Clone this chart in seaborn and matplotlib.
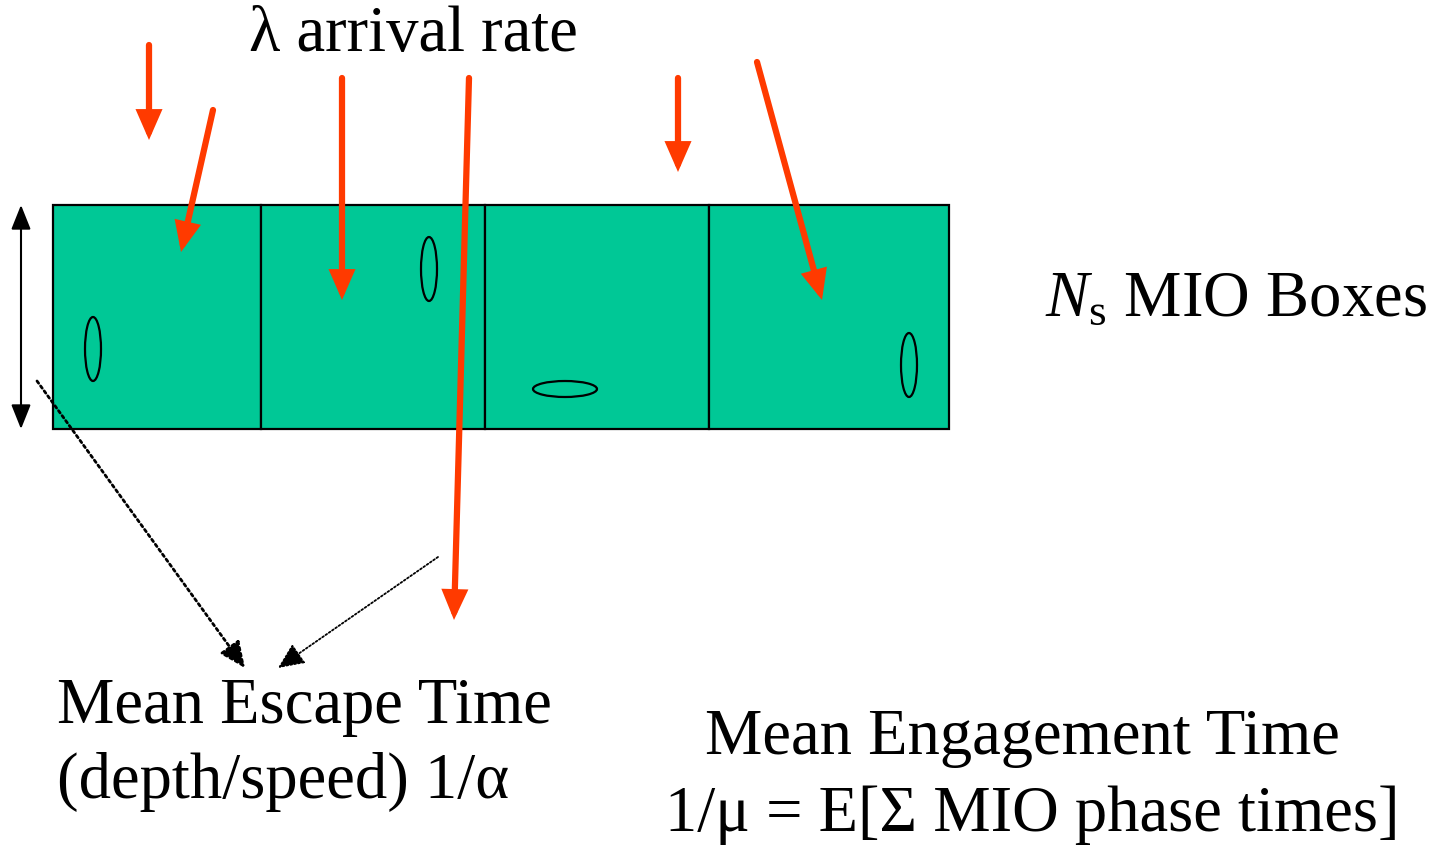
import numpy as np
import pandas as pd
import seaborn as sns
import matplotlib.pyplot as plt
from matplotlib.patches import Rectangle, Ellipse, FancyArrowPatch

sns.set_style("white")
plt.rcParams['font.family'] = ['Liberation Serif', 'DejaVu Serif']
plt.rcParams['text.color'] = 'black'
plt.rcParams['mathtext.fontset'] = 'custom'
plt.rcParams['mathtext.rm'] = 'Liberation Serif'
plt.rcParams['mathtext.it'] = 'Liberation Serif:italic'

# canvas in pixel units (y grows downward)
W, H = 1439, 849

# the strip of MIO boxes
box_left = [53, 261, 485, 709]
box_right = [261, 485, 709, 949]
box_top, box_bottom = 205, 429

# MIO objects drawn as ellipses: centre x, centre y, width, height
mio_x = [93, 429, 565, 909]
mio_y = [349, 269, 389, 365]
mio_w = [16, 16, 64, 16]
mio_h = [64, 64, 16, 64]

# red arrival arrows: start -> tip
arr_x0 = [149, 213, 342, 469, 678, 757]
arr_y0 = [45, 110, 78, 78, 78, 62]
arr_x1 = [149, 181, 342, 454, 678, 822]
arr_y1 = [140, 252, 300, 620, 172, 300]

# dotted arrows to the escape-time label
dot_x0 = [37, 438]
dot_y0 = [381, 557]
dot_x1 = [245, 278]
dot_y1 = [668, 668]
dot_lw = [2.0, 1.3]

green = "#00C896"
red = "#FF3A00"

fig = plt.figure(figsize=(W / 100, H / 100), dpi=100)
ax = fig.add_axes([0, 0, 1, 1])
ax.set_xlim(0, W)
ax.set_ylim(H, 0)
ax.axis("off")

for l, r in zip(box_left, box_right):
    ax.add_patch(Rectangle((l, box_top), r - l, box_bottom - box_top,
                           facecolor=green, edgecolor="black", lw=1.6, zorder=1))

for x, y, w, h in zip(mio_x, mio_y, mio_w, mio_h):
    ax.add_patch(Ellipse((x, y), w, h, facecolor="none", edgecolor="black", lw=1.6, zorder=2))

# depth double arrow
ax.add_patch(FancyArrowPatch((21, box_top), (21, box_bottom),
                             arrowstyle="<|-|>,head_length=1.0,head_width=0.4",
                             mutation_scale=15, lw=1.5, color="black", shrinkA=0, shrinkB=0, zorder=3))

for x0, y0, x1, y1 in zip(arr_x0, arr_y0, arr_x1, arr_y1):
    ax.add_patch(FancyArrowPatch((x0, y0), (x1, y1), arrowstyle="-|>,head_length=0.8,head_width=0.35",
                                 mutation_scale=18, lw=4.5, color=red, shrinkA=0, shrinkB=0,
                                 joinstyle="miter", zorder=4))

for x0, y0, x1, y1, lw in zip(dot_x0, dot_y0, dot_x1, dot_y1, dot_lw):
    ax.add_patch(FancyArrowPatch((x0, y0), (x1, y1), arrowstyle="-|>,head_length=1.0,head_width=0.45",
                                 mutation_scale=16, lw=lw, linestyle=(0, (1, 1.2)), color="black",
                                 shrinkA=0, shrinkB=0, zorder=3))

fs = 46.5
ax.text(413, 35, "λ arrival rate", fontsize=fs, ha="center", va="center")
ax.text(1045, 300, r"$N_\mathrm{s}$ MIO Boxes", fontsize=fs, ha="left", va="center")
ax.text(57, 707, "Mean Escape Time", fontsize=fs, ha="left", va="center")
ax.text(57, 782, "(depth/speed) 1/α", fontsize=fs, ha="left", va="center")
ax.text(1022, 738, "Mean Engagement Time", fontsize=fs, ha="center", va="center")
ax.text(1032, 815, "1/μ = E[Σ MIO phase times]", fontsize=fs, ha="center", va="center")

fig.savefig("out.png", dpi=100, facecolor="white")
